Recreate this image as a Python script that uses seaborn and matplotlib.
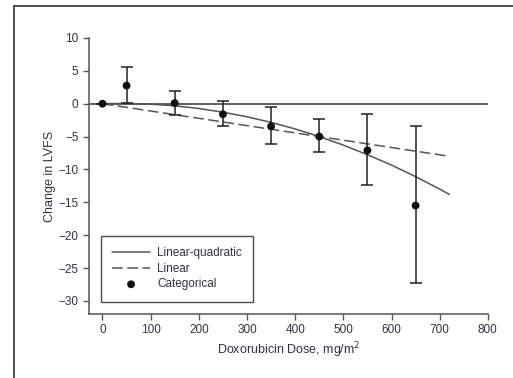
import matplotlib
matplotlib.use("Agg")
import matplotlib.pyplot as plt
import seaborn as sns
from matplotlib.lines import Line2D
from matplotlib import font_manager

# --- data ---
dose_cat = [0, 50, 150, 250, 350, 450, 550, 650]
lvfs_cat = [0.0, 2.75, 0.1, -1.6, -3.45, -5.0, -7.1, -15.5]
err_hi = [0.0, 5.6, 2.0, 0.45, -0.55, -2.4, -1.6, -3.4]
err_lo = [0.0, 0.1, -1.7, -3.45, -6.2, -7.4, -12.4, -27.3]

dose_lq = [0, 50, 100, 150, 200, 250, 300, 350, 400, 450, 500, 550, 600, 650, 700, 720]
lvfs_lq = [0.0, 0.04, -0.07, -0.32, -0.73, -1.29, -1.99, -2.84, -3.84, -5.0,
           -6.3, -7.76, -9.34, -11.1, -12.99, -13.8]

dose_lin = [0, 720]
lvfs_lin = [0.0, -8.0]

x_ticks = [0, 100, 200, 300, 400, 500, 600, 700, 800]
y_ticks = [10, 5, 0, -5, -10, -15, -20, -25, -30]

sns.set_style("ticks")
names = {f.name for f in font_manager.fontManager.ttflist}
fam = ["Liberation Sans Narrow"] if "Liberation Sans Narrow" in names else []
plt.rcParams["font.family"] = fam + ["Liberation Sans", "DejaVu Sans"]
text_col = "#333340"

fig = plt.figure(figsize=(5.13, 3.78), dpi=100)
ax = fig.add_axes([0.1735, 0.1693, 0.7775, 0.7302])

ax.axhline(0, color="#333333", lw=1.1, zorder=1)

sns.lineplot(x=dose_lq, y=lvfs_lq, ax=ax, color="#555555", lw=1.1,
             label="Linear-quadratic", zorder=2)
sns.lineplot(x=dose_lin, y=lvfs_lin, ax=ax, color="#555555", lw=1.1,
             label="Linear", zorder=2)
ax.lines[-1].set_dashes([7, 3])

yerr = [[v - lo for v, lo in zip(lvfs_cat, err_lo)],
        [hi - v for v, hi in zip(lvfs_cat, err_hi)]]
ax.errorbar(dose_cat, lvfs_cat, yerr=yerr, fmt="none", ecolor="#222222",
            elinewidth=1.1, capsize=4.3, capthick=1.1, zorder=3)
sns.scatterplot(x=dose_cat, y=lvfs_cat, ax=ax, color="#111111", s=32,
                edgecolor="none", label="Categorical", zorder=4)

ax.set_xlim(-28, 800)
ax.set_ylim(-32, 10)
ax.set_xticks(x_ticks)
ax.set_yticks(y_ticks)
ax.set_yticklabels([str(t).replace("-", "\u2212") for t in y_ticks])
sns.despine(ax=ax)
for s in ["left", "bottom"]:
    ax.spines[s].set_color("#555555")
    ax.spines[s].set_linewidth(1.1)
ax.tick_params(colors="#555555", labelcolor=text_col, labelsize=8.5,
               length=4, width=1.0, direction="out")

ax.set_xlabel("Doxorubicin Dose, mg/m$^2$", fontsize=9, color=text_col, labelpad=3)
ax.set_ylabel("Change in LVFS", fontsize=9, color=text_col, labelpad=2)

handles, labels = ax.get_legend_handles_labels()
leg = ax.legend(handles, labels, loc="lower left", bbox_to_anchor=(0.03, 0.045),
                frameon=True, fancybox=False, fontsize=8.5, handlelength=3.2,
                borderpad=0.95, labelspacing=0.3, handletextpad=0.6, borderaxespad=0)
leg.get_frame().set_edgecolor("#222222")
leg.get_frame().set_linewidth(1.0)
for t in leg.get_texts():
    t.set_color(text_col)

# page border (top and left)
fig.add_artist(Line2D([14 / 513, 14 / 513], [0, 1 - 6 / 378], transform=fig.transFigure,
                      color="#333333", lw=1.2))
fig.add_artist(Line2D([14 / 513, 1], [1 - 6 / 378, 1 - 6 / 378], transform=fig.transFigure,
                      color="#333333", lw=1.2))

fig.savefig("out.png", dpi=100)
